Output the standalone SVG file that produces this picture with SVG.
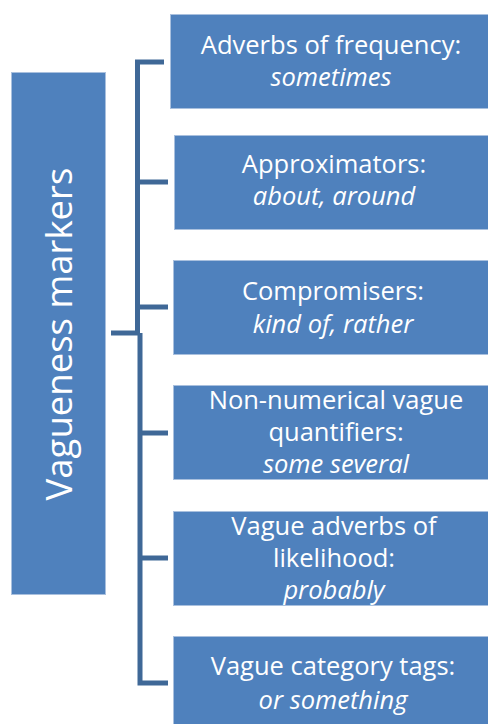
<svg xmlns="http://www.w3.org/2000/svg" width="488" height="724" viewBox="0 0 488 724">
<style>
.box{fill:#4f81bd;stroke:#a9c0de;stroke-width:1}
.t{font-family:"Open Sans","Noto Sans",sans-serif;font-size:25.5px;fill:#ffffff;text-anchor:middle}
.i{font-style:italic}
.c{fill:none;stroke:#3f6897;stroke-width:5;stroke-linejoin:miter}
</style>
<rect width="488" height="724" fill="#ffffff"/>
<g id="connectors">
<path class="c" d="M164,62 H137.5 V333"/>
<path class="c" d="M111,333 H140"/>
<path class="c" d="M140,333 V683 H168"/>
<path class="c" d="M137.5,182 H168"/>
<path class="c" d="M137.5,307 H168"/>
<path class="c" d="M140,433 H168"/>
<path class="c" d="M140,558 H168"/>
</g>
<g id="root">
<rect class="box" x="11.5" y="72.5" width="94" height="522"/>
<text class="t" transform="translate(72,334) rotate(-90)" style="font-size:36.5px">Vagueness markers</text>
</g>
<g id="n1">
<rect class="box" x="170.5" y="14.5" width="318" height="94"/>
<text class="t" x="331" y="54">Adverbs of frequency:</text>
<text class="t i" x="331" y="86">sometimes</text>
</g>
<g id="n2">
<rect class="box" x="174.5" y="135.5" width="314" height="94"/>
<text class="t" x="334" y="173">Approximators:</text>
<text class="t i" x="334" y="205">about, around</text>
</g>
<g id="n3">
<rect class="box" x="173.5" y="260.5" width="315" height="94"/>
<text class="t" x="333" y="300">Compromisers:</text>
<text class="t i" x="333" y="333">kind of, rather</text>
</g>
<g id="n4">
<rect class="box" x="173.5" y="385.5" width="315" height="94"/>
<text class="t" x="336" y="409">Non-numerical vague</text>
<text class="t" x="336" y="441">quantifiers:</text>
<text class="t i" x="336" y="473">some several</text>
</g>
<g id="n5">
<rect class="box" x="173.5" y="511.5" width="315" height="94"/>
<text class="t" x="334" y="535">Vague adverbs of</text>
<text class="t" x="334" y="567">likelihood:</text>
<text class="t i" x="334" y="599">probably</text>
</g>
<g id="n6">
<rect class="box" x="173.5" y="636.5" width="315" height="94"/>
<text class="t" x="333" y="675">Vague category tags:</text>
<text class="t i" x="333" y="709">or something</text>
</g>
</svg>
